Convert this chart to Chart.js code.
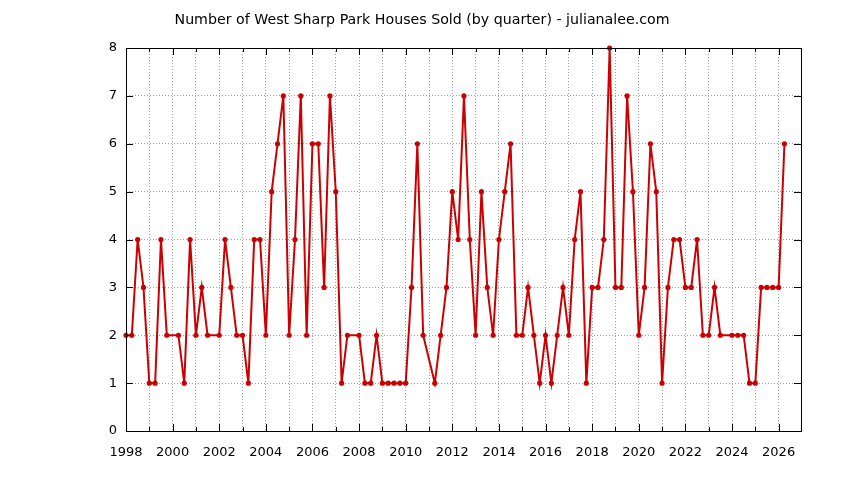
<!DOCTYPE html>
<html lang="en">
<head>
    <meta charset="UTF-8">
    <title>West Sharp Park Houses Sold</title>
    <script src="https://cdn.jsdelivr.net/npm/chart.js"></script>
    <style>
        body { margin: 0; background: #fff; }
        .chart-container { width: 844px; height: 480px; position: relative; }
        /* title centred on the whole picture, like the original */
        .chart-title {
            position: absolute;
            left: 0; top: 10px;
            width: 844px;
            text-align: center;
            font: 14.2px/18px 'DejaVu Sans', sans-serif;
            color: #000;
        }
    </style>
</head>
<body>
    <div class="chart-container">
        <div class="chart-title">Number of West Sharp Park Houses Sold (by quarter) - julianalee.com</div>
        <canvas id="soldChart"></canvas>
    </div>

    <script>
        // quarterly sales, first value is Q1 1998; null = quarter with no data point
        const firstYear = 1998;
        const sold = [
            2, 2, 4, 3,      // 1998
            1, 1, 4, 2,      // 1999
            null, 2, 1, 4,   // 2000
            2, 3, 2, null,   // 2001
            2, 4, 3, 2,      // 2002
            2, 1, 4, 4,      // 2003
            2, 5, 6, 7,      // 2004
            2, 4, 7, 2,      // 2005
            6, 6, 3, 7,      // 2006
            5, 1, 2, null,   // 2007
            2, 1, 1, 2,      // 2008
            1, 1, 1, 1,      // 2009
            1, 3, 6, 2,      // 2010
            null, 1, 2, 3,   // 2011
            5, 4, 7, 4,      // 2012
            2, 5, 3, 2,      // 2013
            4, 5, 6, 2,      // 2014
            2, 3, 2, 1,      // 2015
            2, 1, 2, 3,      // 2016
            2, 4, 5, 1,      // 2017
            3, 3, 4, 8,      // 2018
            3, 3, 7, 5,      // 2019
            2, 3, 6, 5,      // 2020
            1, 3, 4, 4,      // 2021
            3, 3, 4, 2,      // 2022
            2, 3, 2, null,   // 2023
            2, 2, 2, 1,      // 2024
            1, 3, 3, 3,      // 2025
            3, 6             // 2026
        ];
        const yearTicks = [1998, 1999, 2000, 2001, 2002, 2003, 2004, 2005, 2006, 2007,
            2008, 2009, 2010, 2011, 2012, 2013, 2014, 2015, 2016, 2017, 2018, 2019,
            2020, 2021, 2022, 2023, 2024, 2025, 2026];
        const countTicks = [0, 1, 2, 3, 4, 5, 6, 7, 8];

        const points = sold.map((v, i) => ({ x: firstYear + i / 4, y: v }));

        // gnuplot style frame: box all round, tics pointing inwards
        const frame = {
            id: 'frame',
            afterDraw(chart) {
                const { ctx, chartArea: a, scales } = chart;
                ctx.save();
                ctx.strokeStyle = '#000';
                ctx.lineWidth = 1;
                ctx.beginPath();
                yearTicks.forEach(yr => {
                    const x = Math.round(scales.x.getPixelForValue(yr)) + 0.5;
                    const len = yr % 2 === 0 ? 7 : 4;
                    ctx.moveTo(x, a.bottom); ctx.lineTo(x, a.bottom - len);
                    ctx.moveTo(x, a.top); ctx.lineTo(x, a.top + len);
                });
                countTicks.forEach(c => {
                    const y = Math.round(scales.y.getPixelForValue(c)) + 0.5;
                    ctx.moveTo(a.left, y); ctx.lineTo(a.left + 7, y);
                    ctx.moveTo(a.right, y); ctx.lineTo(a.right - 7, y);
                });
                ctx.stroke();
                ctx.strokeRect(Math.round(a.left) + 0.5, Math.round(a.top) + 0.5,
                    Math.round(a.right - a.left), Math.round(a.bottom - a.top));
                ctx.restore();
            }
        };

        const ctx = document.getElementById('soldChart').getContext('2d');
        new Chart(ctx, {
            type: 'line',
            data: {
                datasets: [{
                    data: points,
                    borderColor: '#cc0000',
                    backgroundColor: '#cc0000',
                    borderWidth: 2,
                    pointRadius: 1.6,
                    pointHoverRadius: 1.6,
                    spanGaps: true,
                    tension: 0,
                    clip: false
                }]
            },
            options: {
                responsive: true,
                maintainAspectRatio: false,
                animation: false,
                layout: { padding: { left: 0, right: 43, top: 48, bottom: 0 } },
                plugins: {
                    legend: { display: false },
                    tooltip: { enabled: false },
                    title: { display: false }
                },
                scales: {
                    x: {
                        type: 'linear',
                        min: 1998,
                        max: 2026.96,
                        offset: false,
                        afterFit: s => { s.height = 49; },
                        afterBuildTicks: s => { s.ticks = yearTicks.map(v => ({ value: v })); },
                        grid: { color: '#a0a0a0', drawTicks: false },
                        border: { display: false, dash: [1, 2] },
                        ticks: {
                            color: '#000',
                            padding: 14,
                            maxRotation: 0,
                            autoSkip: false,
                            font: { family: 'DejaVu Sans', size: 13 },
                            callback: v => (v % 2 === 0 ? String(v) : '')
                        }
                    },
                    y: {
                        min: 0,
                        max: 8,
                        afterFit: s => { s.width = 126; },
                        afterBuildTicks: s => { s.ticks = countTicks.map(v => ({ value: v })); },
                        grid: { color: '#a0a0a0', drawTicks: false },
                        border: { display: false, dash: [1, 2] },
                        ticks: {
                            color: '#000',
                            padding: 9,
                            font: { family: 'DejaVu Sans', size: 13 }
                        }
                    }
                }
            },
            plugins: [frame]
        });
    </script>
</body>
</html>
